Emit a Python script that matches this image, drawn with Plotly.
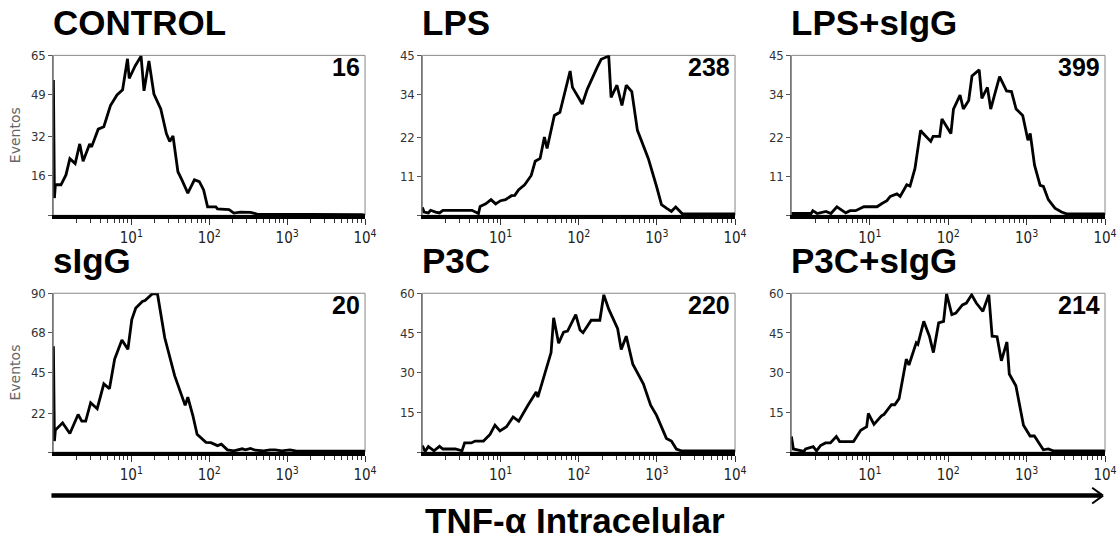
import plotly.graph_objects as go

W, H = 1119, 541

# histogram values: x as log10(intensity), y as events
control_e = [0.0, 0.013, 0.025, 0.097, 0.161, 0.211, 0.279, 0.338, 0.381, 0.465, 0.490, 0.575, 0.647, 0.732,
             0.816, 0.888, 0.951, 0.973, 1.049, 1.125, 1.163, 1.226, 1.290, 1.378, 1.450, 1.493, 1.535, 1.598,
             1.649, 1.725, 1.810, 1.873, 1.928, 1.979, 2.085, 2.106, 2.254, 2.317, 2.402, 2.529, 2.613, 3.121,
             3.966, 4.0]
control_y = [55, 7, 12.4, 12.4, 16.4, 23, 21, 29, 22, 29, 27.8, 35, 36, 44.6,
             48.9, 51, 63.6, 55.6, 60.7, 64.7, 50.6, 62.7, 49.3, 43.2, 33.2, 30, 32.2, 17.7,
             14.4, 9, 14.4, 13.7, 10.3, 3.4, 3.4, 2.6, 2.3, 0.9, 1.3, 1.2, 0.5, 0.5,
             0.3, 0]

lps_e = [0.0, 0.021, 0.076, 0.105, 0.169, 0.219, 0.262, 0.633, 0.717, 0.738, 0.810, 0.878, 0.937, 1.0,
         1.063, 1.139, 1.181, 1.232, 1.308, 1.392, 1.443, 1.506, 1.561, 1.595, 1.688, 1.759, 1.890, 1.920,
         2.046, 2.110, 2.236, 2.287, 2.384, 2.414, 2.489, 2.553, 2.608, 2.679, 2.751, 2.827, 2.890, 2.996,
         3.059, 3.122, 3.186, 3.241, 3.325, 3.987, 4.0]
lps_y = [2.2, 0.9, 0.65, 1.4, 0.9, 0.65, 1.4, 1.4, 0.5, 2.5, 3.2, 4.4, 3.2, 4.1,
         4.4, 5.5, 5.6, 7.2, 8.6, 11.2, 15.2, 16, 22, 18.8, 28.1, 29, 40.6, 36,
         31.3, 35.5, 41.6, 43.9, 44.8, 33.2, 36.6, 30.9, 36.6, 34.8, 23.9, 19.7, 16, 8.1,
         3, 2, 1.1, 2.3, 0.4, 0.4, 0]

lps_sigg_e = [0.0, 0.252, 0.273, 0.328, 0.441, 0.504, 0.580, 0.693, 0.748, 0.819, 0.924, 1.092, 1.155, 1.218,
              1.261, 1.345, 1.387, 1.471, 1.513, 1.576, 1.647, 1.681, 1.777, 1.807, 1.891, 1.920, 2.034, 2.067,
              2.151, 2.193, 2.261, 2.303, 2.395, 2.429, 2.5, 2.542, 2.605, 2.655, 2.744, 2.807, 2.866, 2.950,
              3.017, 3.046, 3.101, 3.172, 3.214, 3.277, 3.361, 3.445, 3.508, 3.983, 4.0]
lps_sigg_y = [0.5, 0.5, 1.3, 0.5, 1.1, 0.5, 2.4, 0.7, 1.3, 1.3, 2.4, 2.4, 3.3, 4.1,
              5.3, 6.0, 5.3, 8.6, 8.2, 13.2, 23.9, 23, 20.8, 22.2, 22.2, 27.1, 23, 29.9,
              33.8, 29.9, 32.3, 39.2, 40.9, 32.9, 36, 29.9, 35, 39, 35, 34.8, 29.9, 28.1,
              21.1, 23, 14.1, 8.4, 8.1, 4.4, 2, 0.9, 0.4, 0.4, 0]

sigg_e = [0.0, 0.013, 0.025, 0.118, 0.211, 0.317, 0.364, 0.414, 0.478, 0.562, 0.647, 0.719, 0.786, 0.879,
          0.956, 1.006, 1.057, 1.142, 1.175, 1.268, 1.336, 1.429, 1.556, 1.691, 1.725, 1.789, 1.844, 1.958,
          2.021, 2.106, 2.156, 2.233, 2.317, 2.423, 2.465, 2.529, 2.592, 2.698, 2.782, 2.846, 2.930, 3.036,
          3.121, 3.987, 4.0]
sigg_y = [60, 6.3, 12.5, 16.6, 10.6, 21.3, 17.6, 17.6, 28, 24.6, 38.7, 35.9, 52.7, 63.5,
          58.3, 75.1, 81.6, 85.3, 85.9, 89.6, 89.6, 64.8, 43.3, 26.5, 31.2, 20.9, 10.1, 5.6,
          5.4, 3.7, 4.5, 1.3, 0.7, 1.9, 1.3, 2.1, 1.1, 0.7, 1.3, 1.3, 0.7, 1.3,
          0.6, 0.6, 0]

p3c_e = [0.0, 0.034, 0.076, 0.148, 0.219, 0.262, 0.422, 0.506, 0.540, 0.624, 0.675, 0.781, 0.865, 0.928,
         0.992, 1.076, 1.160, 1.232, 1.350, 1.456, 1.477, 1.561, 1.646, 1.679, 1.743, 1.806, 1.857, 1.962,
         2.017, 2.055, 2.160, 2.270, 2.321, 2.384, 2.498, 2.544, 2.608, 2.692, 2.764, 2.827, 2.920, 2.996,
         3.122, 3.186, 3.249, 3.312, 3.987, 4.0]
p3c_y = [2.5, 0.25, 2.1, 0.5, 2.2, 1.2, 1.2, 0.5, 3.5, 3.5, 4.2, 4.2, 6.7, 10.2,
         8, 9.6, 13.3, 11.7, 17.7, 22.7, 20.8, 28.9, 37.6, 50.7, 41.1, 45.3, 45.7, 51.9,
         46.1, 45.1, 49.8, 49.8, 59.4, 54, 46.6, 38.8, 43.8, 33.2, 29.5, 25.8, 17.7, 13.9,
         5.2, 4.2, 1.2, 0.5, 0.5, 0]

p3c_sigg_e = [0.0, 0.025, 0.076, 0.160, 0.181, 0.278, 0.320, 0.371, 0.434, 0.497, 0.573, 0.615, 0.792, 0.884,
              0.960, 0.981, 1.053, 1.149, 1.179, 1.276, 1.318, 1.373, 1.465, 1.499, 1.592, 1.613, 1.688, 1.760,
              1.811, 1.878, 1.941, 1.979, 2.046, 2.097, 2.181, 2.232, 2.299, 2.358, 2.442, 2.518, 2.560, 2.623,
              2.678, 2.749, 2.779, 2.863, 2.960, 3.044, 3.099, 3.213, 3.276, 3.339, 3.983, 4.0]
p3c_sigg_y = [5.9, 1.2, 0.9, 0.3, 1.2, 2.1, 0.5, 2.5, 3.5, 3.5, 5.9, 4, 4, 8.3,
              9.6, 14.6, 10.5, 13.7, 14.2, 17.9, 17.9, 20.2, 35.1, 32.9, 41.3, 40.7, 49.4, 43.8,
              37.6, 48.8, 49.4, 59.8, 51.9, 52.5, 55.6, 56.3, 59.4, 56.3, 53.2, 59.4, 43.8, 43.6,
              34.5, 41.6, 29.5, 25.1, 10.2, 6.1, 6.1, 0.9, 1.2, 0.5, 0.5, 0]

titles = ["CONTROL", "LPS", "LPS+sIgG", "sIgG", "P3C", "P3C+sIgG"]
corner_values = ["16", "238", "399", "20", "220", "214"]
y_max = [65, 45, 45, 90, 60, 60]
y_ticks = [[16, 32, 49, 65], [11, 22, 34, 45], [11, 22, 34, 45],
           [22, 45, 68, 90], [15, 30, 45, 60], [15, 30, 45, 60]]
series_e = [control_e, lps_e, lps_sigg_e, sigg_e, p3c_e, p3c_sigg_e]
series_y = [control_y, lps_y, lps_sigg_y, sigg_y, p3c_y, p3c_sigg_y]
x_tick_vals = [10, 100, 1000, 10000]
x_tick_text = ["10<sup>1</sup>", "10<sup>2</sup>", "10<sup>3</sup>", "10<sup>4</sup>"]


def px(x):
    return x / W


def py(y):
    return 1 - y / H


# panel boxes in pixels: (left, right) per column, (top, bottom) per row
cols = [(54, 369), (427, 743), (800, 1117)]
rows = [(49, 211), (290, 451)]

minor_vals = [m * 10 ** d for d in range(4) for m in range(2, 10)]

fig = go.Figure()
shapes = []
annotations = []

for i in range(6):
    r, c = divmod(i, 3)
    n = i + 1
    xa = "x" if n == 1 else f"x{n}"
    ya = "y" if n == 1 else f"y{n}"
    left, right = cols[c]
    top, bottom = rows[r]

    fig.add_trace(go.Scatter(
        x=[10 ** e for e in series_e[i]], y=series_y[i],
        mode="lines", line=dict(color="black", width=2.8),
        xaxis=xa, yaxis=ya, showlegend=False, hoverinfo="skip",
    ))

    fig.update_layout({
        f"xaxis{'' if n == 1 else n}": dict(
            type="log", range=[0, 4], domain=[px(left), px(right)], anchor=ya,
            showgrid=False, zeroline=False, showline=True, linewidth=3.5, linecolor="black",
            tickmode="array", tickvals=x_tick_vals, ticktext=x_tick_text,
            ticks="outside", ticklen=6, tickwidth=1, tickcolor="#333",
            minor=dict(tickmode="array", tickvals=minor_vals, ticks="outside", ticklen=4,
                       tickwidth=1, tickcolor="#333", showgrid=False),
            tickfont=dict(family="DejaVu Sans Condensed, DejaVu Sans", size=15, color="#222"),
            fixedrange=True,
        ),
        f"yaxis{'' if n == 1 else n}": dict(
            range=[0, y_max[i]], domain=[py(bottom), py(top)], anchor=xa,
            showgrid=False, zeroline=False, showline=True, linewidth=1, linecolor="#777",
            tickmode="array", tickvals=[0] + y_ticks[i], ticktext=[""] + [str(t) for t in y_ticks[i]],
            ticks="outside", ticklen=4, tickwidth=1, tickcolor="#555",
            tickfont=dict(family="DejaVu Sans Condensed, DejaVu Sans", size=13, color="#333"),
            fixedrange=True,
        ),
    })

    # thin grey frame around each panel
    shapes.append(dict(type="rect", xref=f"{xa} domain", yref=f"{ya} domain",
                       x0=0, x1=1, y0=0, y1=1, line=dict(color="#888", width=1), layer="below"))

    annotations.append(dict(
        text=titles[i], x=px(left - 2), y=py(top - 33), xref="paper", yref="paper",
        xanchor="left", yanchor="middle", showarrow=False,
        font=dict(family="Liberation Sans, Arial", size=35, color="black", weight="bold"),
    ))
    annotations.append(dict(
        text=corner_values[i], x=px(right - 3), y=py(top + 12), xref="paper", yref="paper",
        xanchor="right", yanchor="middle", showarrow=False,
        font=dict(family="Liberation Sans, Arial", size=25, color="black", weight="bold"),
    ))

for r in range(2):
    top, bottom = rows[r]
    annotations.append(dict(
        text="Eventos", x=px(15), y=py((top + bottom) / 2), xref="paper", yref="paper",
        xanchor="center", yanchor="middle", showarrow=False, textangle=-90,
        font=dict(family="DejaVu Sans", size=14, color="#666"),
    ))

# long arrow under the panels
shapes.append(dict(type="line", xref="paper", yref="paper",
                   x0=px(52), x1=px(1113), y0=py(495), y1=py(495),
                   line=dict(color="black", width=4.5)))
shapes.append(dict(type="line", xref="paper", yref="paper",
                   x0=px(1104), x1=px(1115), y0=py(487), y1=py(495),
                   line=dict(color="black", width=2)))
shapes.append(dict(type="line", xref="paper", yref="paper",
                   x0=px(1104), x1=px(1115), y0=py(503), y1=py(495),
                   line=dict(color="black", width=2)))

annotations.append(dict(
    text="TNF-α Intracelular", x=px(581), y=py(520), xref="paper", yref="paper",
    xanchor="center", yanchor="middle", showarrow=False,
    font=dict(family="Liberation Sans, Arial", size=35, color="black", weight="bold"),
))

fig.update_layout(
    width=W, height=H,
    margin=dict(l=0, r=0, t=0, b=0),
    paper_bgcolor="white", plot_bgcolor="white",
    shapes=shapes, annotations=annotations,
)

fig.write_html("out.html", config={"displayModeBar": False},
               post_script="document.body.style.margin='0';")
